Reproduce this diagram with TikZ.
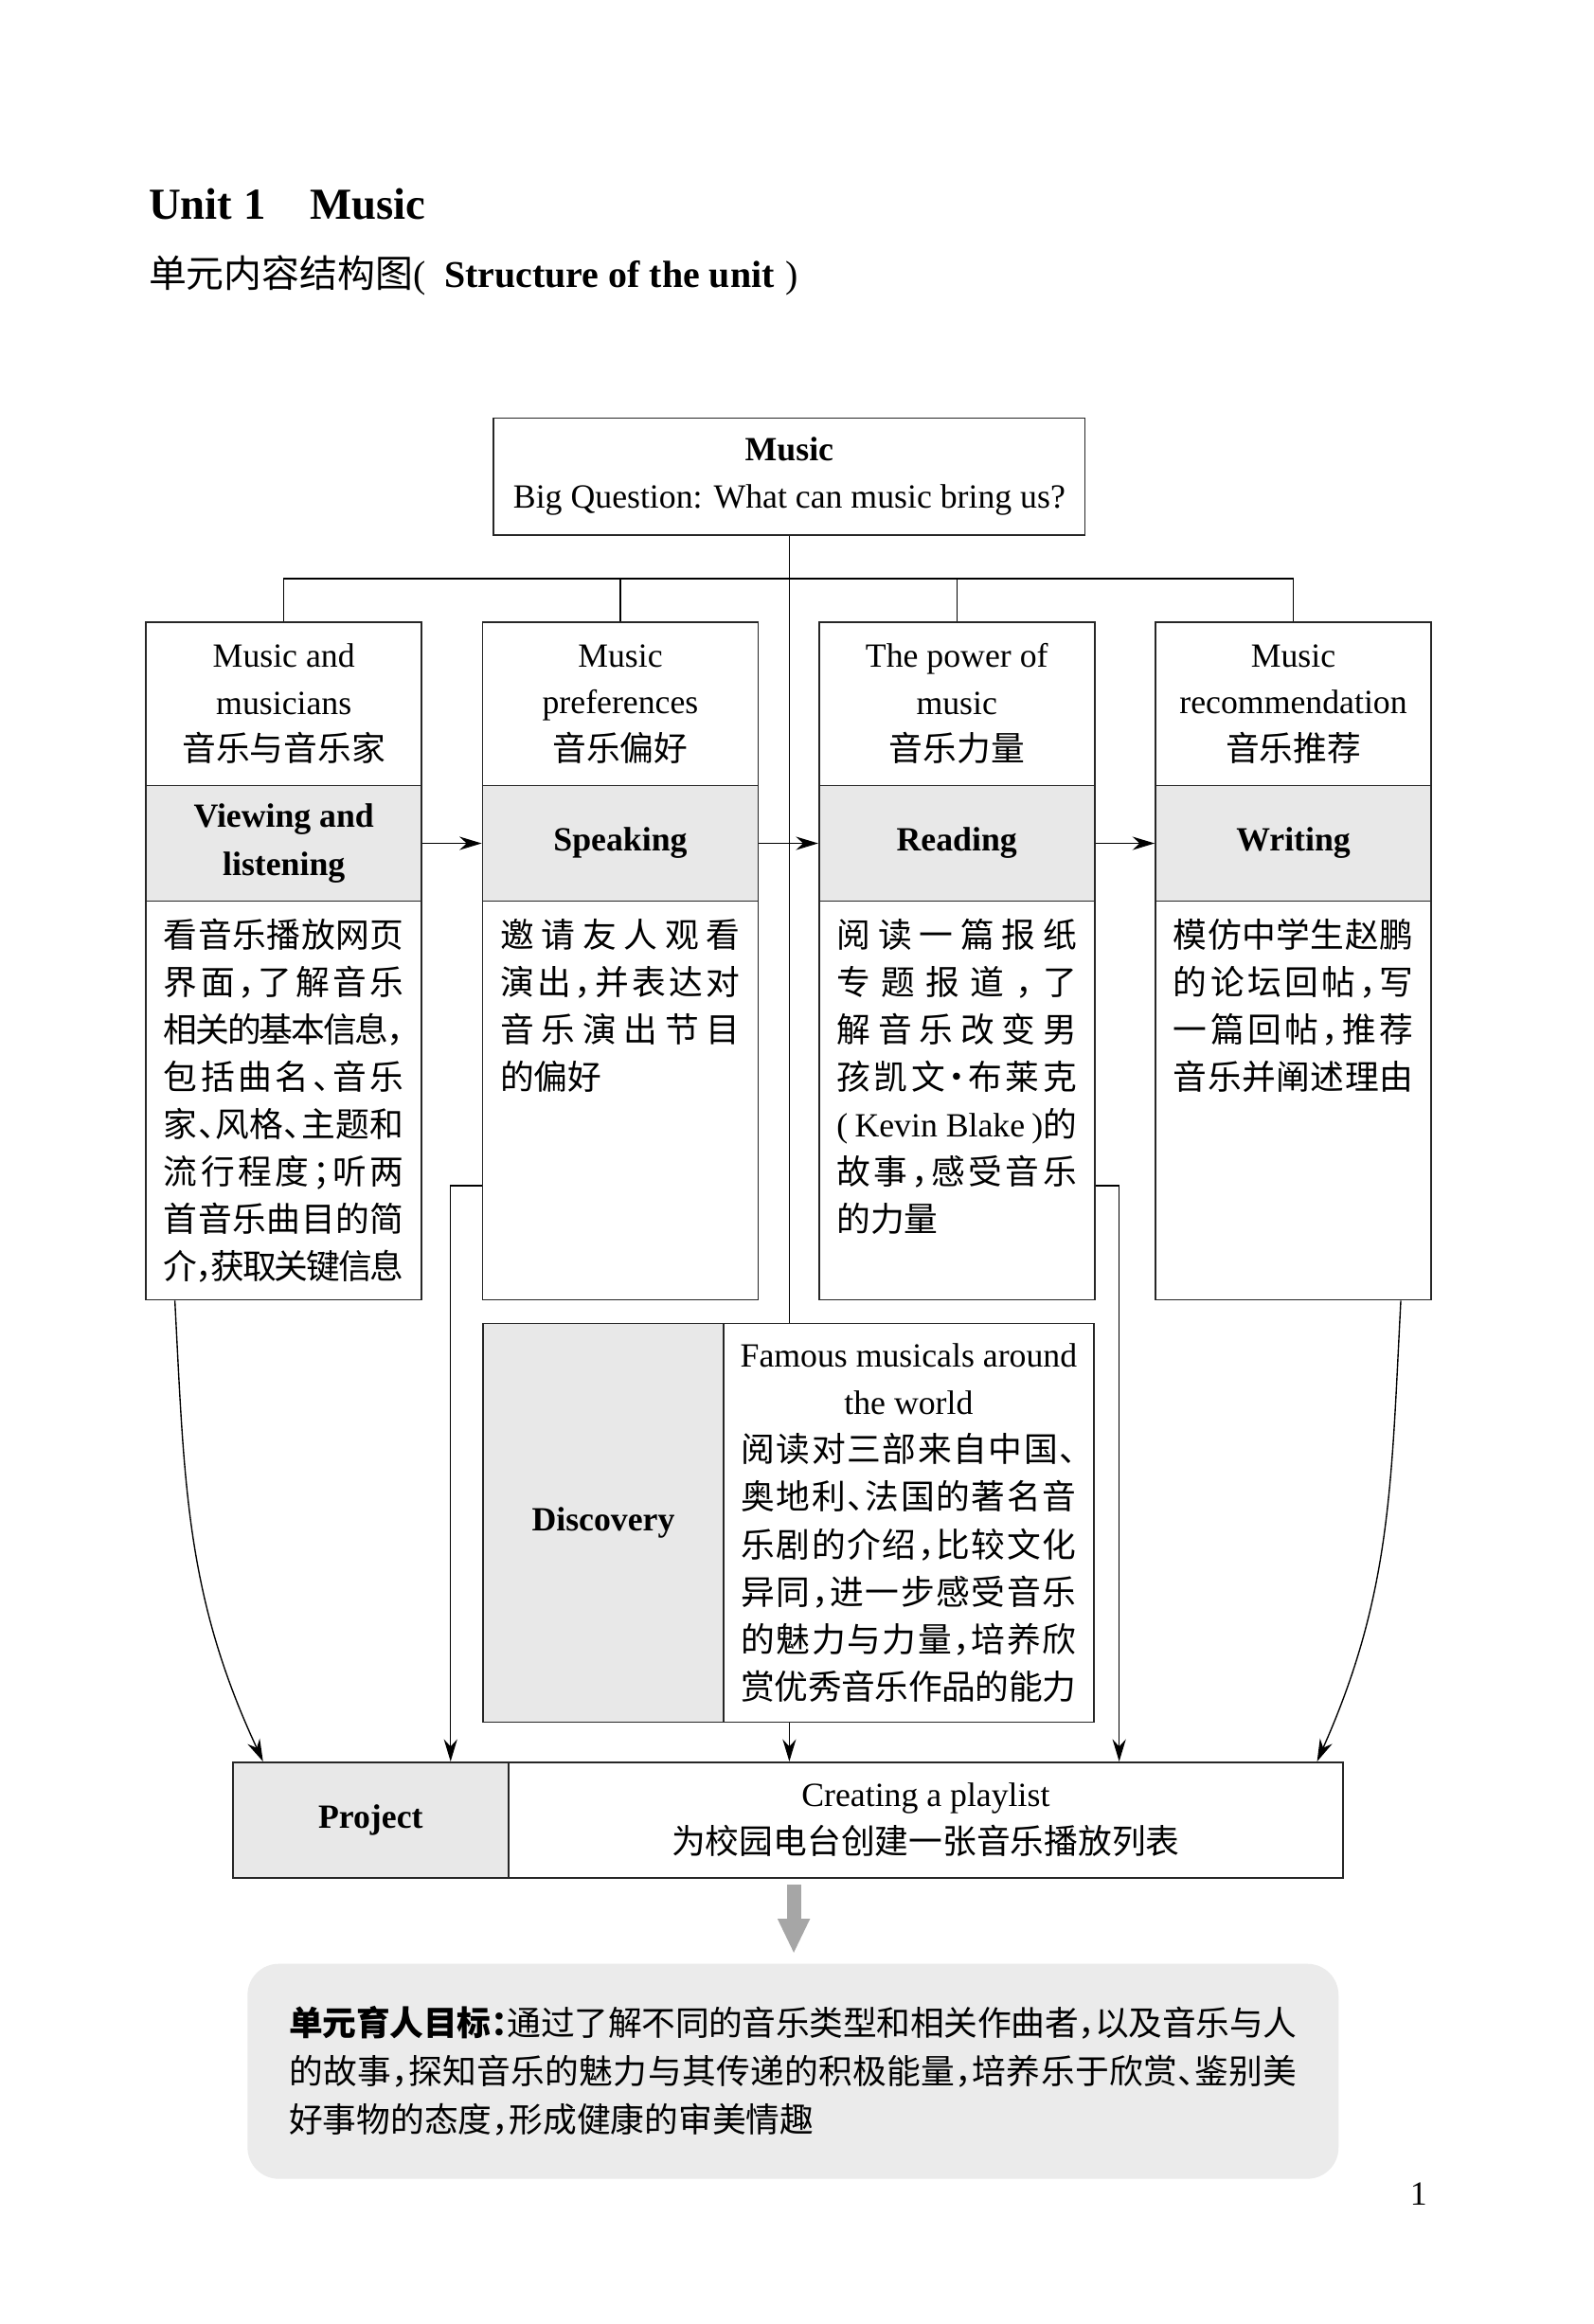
\documentclass[tikz,border=0pt]{standalone}
\usepackage{fontspec}
\setmainfont{Liberation Serif}
\newfontfamily\cjk{Noto Sans CJK SC}[RawFeature={+halt}]
\usepackage{tikz}
\usetikzlibrary{positioning,arrows.meta,calc}

% spread the characters of one line over a fixed width
\makeatletter
\newcommand\gp{\hskip 0pt plus 1fil minus .12em\relax}
\newcommand\sprd[1]{\let\sp@gap\relax\@tfor\sp@t:=#1\do{\sp@gap\sp@t\let\sp@gap\gp}}
\makeatother
\newcommand\jl[2][3.24cm]{\makebox[#1][s]{\sprd{#2}}}

\begin{document}
\begin{tikzpicture}[
    font=\fontsize{13}{18}\selectfont,
    topbox/.style={
        draw=black!85,
        line width=0.6pt,
        minimum width=3.72cm,
        minimum height=2.2cm,
        align=center,
        inner sep=1pt
    },
    skillbox/.style={
        draw=black!85,
        line width=0.6pt,
        fill=black!9,
        minimum width=3.72cm,
        minimum height=1.56cm,
        align=center,
        font=\fontsize{13}{18.2}\selectfont\bfseries
    },
    descbox/.style={
        draw=black!85,
        line width=0.6pt,
        minimum width=3.72cm,
        minimum height=5.38cm
    },
    desctext/.style={
        anchor=north,
        inner sep=0pt,
        align=left,
        font=\cjk\fontsize{13}{18.2}\selectfont
    },
    arr/.style={-{Stealth[length=3mm,width=1.8mm]}, line width=0.5pt},
    link/.style={line width=0.5pt},
    bigarr/.style={draw=black!35, line width=0.19cm, -{Triangle[length=0.47cm,width=0.4cm]}}
]

\useasboundingbox[fill=white] (0,0) rectangle (21.5,-31.36);

% heading
\node[anchor=base west, inner sep=0pt, font=\fontsize{17}{20}\selectfont\bfseries] (unit) at (2.0,-2.96)
{Unit 1\quad Music};
\node[anchor=base west, inner sep=0pt, font=\fontsize{14.5}{17}\selectfont] (sub) at (2.0,-3.88)
{{\cjk 单元内容结构图}(\enspace\textbf{Structure of the unit}\hspace{0.3em})};

% unit question
\node[topbox, minimum width=7.98cm, minimum height=1.58cm] (music) at (10.65,-6.43)
{\textbf{Music}\\Big Question: What can music bring us?};

% first row: topics
\node[topbox] (tt1) at (3.83,-9.5) {Music and\\musicians\\{\cjk 音乐与音乐家}};
\node[topbox] (tt2) at (8.37,-9.5) {Music\\preferences\\{\cjk 音乐偏好}};
\node[topbox] (tt3) at (12.91,-9.5) {The power of\\music\\{\cjk 音乐力量}};
\node[topbox] (tt4) at (17.45,-9.5) {Music\\recommendation\\{\cjk 音乐推荐}};

% skills
\node[skillbox] (sk1) at (3.83,-11.38) {Viewing and\\listening};
\node[skillbox] (sk2) at (8.37,-11.38) {Speaking};
\node[skillbox] (sk3) at (12.91,-11.38) {Reading};
\node[skillbox] (sk4) at (17.45,-11.38) {Writing};

% tasks
\node[descbox] (ds1) at (3.83,-14.85) {};
\node[descbox] (ds2) at (8.37,-14.85) {};
\node[descbox] (ds3) at (12.91,-14.85) {};
\node[descbox] (ds4) at (17.45,-14.85) {};

\node[desctext] (dt1) at ([yshift=-0.24cm]ds1.north)
{\jl{看音乐播放网页}\\\jl{界面，了解音乐}\\\jl{相关的基本信息，}\\\jl{包括曲名、音乐}\\
\jl{家、风格、主题和}\\\jl{流行程度；听两}\\\jl{首音乐曲目的简}\\\jl{介，获取关键信息}};
\node[desctext] (dt2) at ([yshift=-0.24cm]ds2.north)
{\jl{邀请友人观看}\\\jl{演出，并表达对}\\\jl{音乐演出节目}\\的偏好};
\node[desctext] (dt3) at ([yshift=-0.24cm]ds3.north)
{\jl{阅读一篇报纸}\\\jl{专题报道，了}\\\jl{解音乐改变男}\\\jl{孩凯文·布莱克}\\
\makebox[3.24cm][s]{\rmfamily(\hfil Kevin Blake\hfil)\cjk 的}\\\jl{故事，感受音乐}\\的力量};
\node[desctext] (dt4) at ([yshift=-0.24cm]ds4.north)
{\jl{模仿中学生赵鹏}\\\jl{的论坛回帖，写}\\\jl{一篇回帖，推荐}\\\jl{音乐并阐述理由}};

% discovery
\node[skillbox, minimum width=3.24cm, minimum height=5.38cm] (dg) at (8.14,-20.55) {Discovery};
\node[descbox, minimum width=5.0cm, align=center, font=\fontsize{13}{18.2}\selectfont] (dw) at (12.26,-20.55)
{Famous musicals around\\the world\\
{\cjk\jl[4.52cm]{阅读对三部来自中国、}}\\{\cjk\jl[4.52cm]{奥地利、法国的著名音}}\\
{\cjk\jl[4.52cm]{乐剧的介绍，比较文化}}\\{\cjk\jl[4.52cm]{异同，进一步感受音乐}}\\
{\cjk\jl[4.52cm]{的魅力与力量，培养欣}}\\{\cjk\jl[4.52cm]{赏优秀音乐作品的能力}}};

% project
\node[skillbox] (pg) at (5.0,-24.56) {Project};
\node[descbox, minimum width=11.26cm, minimum height=1.56cm, align=center, font=\fontsize{13}{18.2}\selectfont] (pw) at (12.49,-24.56)
{Creating a playlist\\{\cjk 为校园电台创建一张音乐播放列表}};

% goal
\node[fill=black!8, rounded corners=0.42cm, minimum width=14.72cm, minimum height=2.9cm,
      align=left, font=\cjk\fontsize{13}{18.5}\selectfont] (goal) at (10.7,-27.95)
{\makebox[13.6cm][s]{\textbf{\sprd{单元育人目标：}}\gp\sprd{通过了解不同的音乐类型和相关作曲者，以及音乐与人}}\\
\makebox[13.6cm][s]{\sprd{的故事，探知音乐的魅力与其传递的积极能量，培养乐于欣赏、鉴别美}}\\
好事物的态度，形成健康的审美情趣};

\node[font=\fontsize{13}{15}\selectfont] (pnum) at (19.14,-29.6) {1};

% tree lines
\draw[link] (tt1.north) -- ++(0,0.58) -| (tt4.north);
\draw[link] (tt2.north) -- ++(0,0.58);
\draw[link] (tt3.north) -- ++(0,0.58);
\draw[link] (music.south) -- (music.south |- dw.north);

% skill chain
\draw[arr] (sk1) -- (sk2);
\draw[arr] (sk2) -- (sk3);
\draw[arr] (sk3) -- (sk4);

% into the project
\coordinate (k2) at ([xshift=-0.42cm]ds2.west);
\coordinate (k3) at ([xshift=0.32cm]ds3.east);
\draw[arr] ([xshift=0.4cm]ds1.south west) to[out=-87,in=115] ([xshift=0.42cm]pg.north west);
\draw[arr] ([yshift=-1.15cm]ds2.west) -| (k2 |- pg.north);
\draw[arr] (music.south |- dw.south) -- (music.south |- pw.north);
\draw[arr] ([yshift=-1.15cm]ds3.east) -| (k3 |- pw.north);
\draw[arr] ([xshift=-0.42cm]ds4.south east) to[out=-93,in=66] ([xshift=-0.36cm]pw.north east);

\coordinate (ga) at (10.71,0);
\draw[bigarr, shorten <=0.08cm, shorten >=0.13cm] (ga |- pw.south) -- (ga |- goal.north);

\end{tikzpicture}
\end{document}
